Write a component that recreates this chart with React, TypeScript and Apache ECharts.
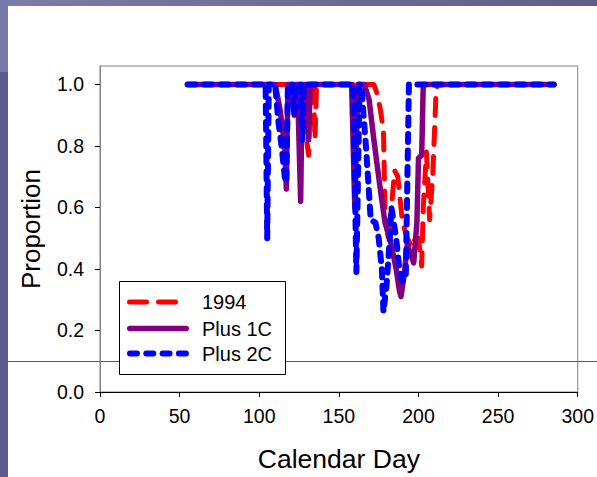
import React, { useEffect, useRef } from 'react';
import * as echarts from 'echarts';

const xTicks = [0, 50, 100, 150, 200, 250, 300];
const yTicks = [0, 0.2, 0.4, 0.6, 0.8, 1.0];
const seriesNames = ['1994', 'Plus 1C', 'Plus 2C'];
const seriesColors = ['#ff0000', '#800080', '#0000ff'];

const days1994 = [55, 127, 129, 131, 132, 134, 135, 136, 159, 160, 161, 172, 174, 176, 178, 179, 181, 183, 185, 187, 190, 193, 196, 198, 200, 202, 203, 205, 207, 209, 211, 212, 285];
const prop1994 = [1, 1, 0.85, 0.77, 1, 1, 0.82, 1, 1, 0.97, 1, 1, 0.97, 0.92, 0.85, 0.58, 0.5, 0.6, 0.72, 0.7, 0.55, 0.5, 0.47, 0.5, 0.5, 0.41, 0.6, 0.78, 0.56, 0.71, 0.97, 1, 1];

const daysPlus1C = [55, 110, 113, 116, 117, 118, 120, 122, 123, 124, 126, 127, 129, 131, 132, 158, 160, 162, 166, 169, 172, 176, 179, 182, 184, 186, 188, 189, 191, 193, 195, 197, 199, 200, 202, 203, 285];
const propPlus1C = [1, 1, 0.92, 0.8, 0.66, 1, 1, 0.9, 1, 1, 0.62, 1, 1, 0.82, 1, 1, 0.6, 1, 1, 0.95, 0.82, 0.66, 0.55, 0.5, 0.45, 0.4, 0.33, 0.31, 0.38, 0.48, 0.45, 0.42, 0.55, 0.76, 0.77, 1, 1];

const daysPlus2C = [55, 104, 105, 106, 110, 112, 114, 116, 117, 118, 121, 122, 123, 126, 127, 128, 159, 161, 163, 164, 167, 170, 173, 175, 177, 178, 180, 182, 183, 186, 188, 190, 192, 194, 285];
const propPlus2C = [1, 1, 0.5, 1, 1, 0.88, 0.8, 0.7, 0.68, 1, 1, 0.9, 1, 1, 0.82, 1, 1, 0.39, 1, 1, 0.8, 0.56, 0.55, 0.5, 0.4, 0.26, 0.35, 0.5, 0.6, 0.5, 0.4, 0.36, 0.37, 1, 1];

const FONT = 'Liberation Sans';

const lineWidths = [5, 5.5, 6];
const lineDashes: (number[] | null)[] = [[17, 12], null, [7, 9.3]];

function zip(xs: number[], ys: number[]) {
  return xs.map((x, i) => [x, ys[i]]);
}

export default function App() {
  const ref = useRef<HTMLDivElement>(null);
  useEffect(() => {
    const chart = echarts.init(ref.current!, null, { renderer: 'svg' });

    const legendRowsY = [302, 328.5, 353.5];
    const legendChildren: any[] = [
      {
        type: 'rect',
        shape: { x: 119.5, y: 281.5, width: 166, height: 93 },
        style: { fill: '#ffffff', stroke: '#000000', lineWidth: 1 },
      },
    ];
    seriesNames.forEach((name, i) => {
      const w = lineWidths[i];
      legendChildren.push({
        type: 'line',
        shape: { x1: 127 + w / 2, y1: legendRowsY[i], x2: i === 0 ? 187 : 189 - w / 2, y2: legendRowsY[i] },
        style: {
          stroke: seriesColors[i], lineWidth: w, lineCap: 'round',
          lineDash: lineDashes[i] || undefined,
        },
      });
      legendChildren.push({
        type: 'text',
        x: 202, y: legendRowsY[i],
        style: { text: name, fontFamily: FONT, fontSize: 20, fill: '#000', verticalAlign: 'middle', align: 'left' },
      });
    });

    chart.setOption({
      animation: false,
      backgroundColor: '#ffffff',
      graphic: [
        {
          type: 'rect', z: 0,
          shape: { x: 0, y: 0, width: 597, height: 6 },
          style: {
            fill: new echarts.graphic.LinearGradient(0, 0, 1, 0, [
              { offset: 0, color: '#7c7caa' },
              { offset: 1, color: '#5d5d8e' },
            ]),
          },
        },
        { type: 'rect', z: 0, shape: { x: 0, y: 0, width: 8, height: 72 }, style: { fill: '#7a7aa8' } },
        { type: 'rect', z: 0, shape: { x: 0, y: 72, width: 8, height: 405 }, style: { fill: '#5b5b8c' } },
        {
          type: 'line', z: 0,
          shape: { x1: 8, y1: 361.5, x2: 597, y2: 361.5 },
          style: { stroke: '#4f4fa6', lineWidth: 1 },
        },
        { type: 'group', z: 10, children: legendChildren },
      ],
      grid: {
        left: 100, right: 17, top: 66, bottom: 82,
        show: true, borderColor: '#808080', borderWidth: 1, backgroundColor: 'transparent',
      },
      xAxis: {
        type: 'value', min: 0, max: 300, interval: 50,
        axisLine: { show: true, lineStyle: { color: '#000', width: 1 } },
        axisTick: { show: true, length: 5, lineStyle: { color: '#000' }, customValues: xTicks },
        axisLabel: { customValues: xTicks, fontFamily: FONT, fontSize: 19.5, color: '#000', margin: 14 },
        splitLine: { show: false },
        name: 'Calendar Day', nameLocation: 'middle', nameGap: 53,
        nameTextStyle: { fontFamily: FONT, fontSize: 26.5, color: '#000' },
      },
      yAxis: {
        type: 'value', min: 0, max: 1.06,
        axisLine: { show: true, lineStyle: { color: '#808080', width: 1 } },
        axisTick: { show: true, length: 5, lineStyle: { color: '#000' }, customValues: yTicks },
        axisLabel: {
          customValues: yTicks, fontFamily: FONT, fontSize: 19.5, color: '#000', margin: 16,
          formatter: (v: number) => v.toFixed(1),
        },
        splitLine: { show: false },
        name: 'Proportion', nameLocation: 'middle', nameGap: 56, nameRotate: 90,
        nameTextStyle: { fontFamily: FONT, fontSize: 26, color: '#000' },
      },
      series: [
        {
          name: seriesNames[0], type: 'line', data: zip(days1994, prop1994),
          symbol: 'none', showSymbol: false, z: 2,
          itemStyle: { color: seriesColors[0] },
          lineStyle: { color: seriesColors[0], width: lineWidths[0], type: lineDashes[0], cap: 'round', join: 'round' },
        },
        {
          name: seriesNames[1], type: 'line', data: zip(daysPlus1C, propPlus1C),
          symbol: 'none', showSymbol: false, z: 3,
          itemStyle: { color: seriesColors[1] },
          lineStyle: { color: seriesColors[1], width: lineWidths[1], type: 'solid', cap: 'round', join: 'round' },
        },
        {
          name: seriesNames[2], type: 'line', data: zip(daysPlus2C, propPlus2C),
          symbol: 'none', showSymbol: false, z: 4,
          itemStyle: { color: seriesColors[2] },
          lineStyle: { color: seriesColors[2], width: lineWidths[2], type: [8, 8.5], cap: 'round', join: 'round' },
        },
      ],
    });
    return () => chart.dispose();
  }, []);
  return <div ref={ref} style={{ position: 'absolute', left: 0, top: 0, width: 597, height: 477 }} />;
}
